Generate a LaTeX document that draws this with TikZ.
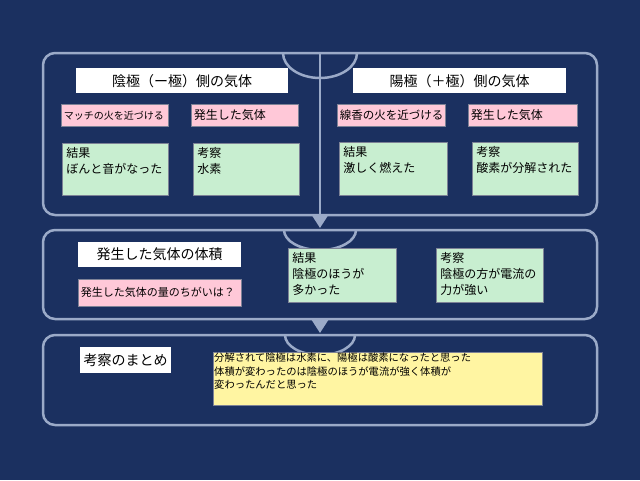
\documentclass[tikz,border=0pt]{standalone}
\usepackage{fontspec}
\setmainfont{Noto Sans CJK JP}
\usepackage{tikz}
\usetikzlibrary{arrows.meta}

\definecolor{navy}{RGB}{27,48,96}
\definecolor{frame}{RGB}{155,170,200}
\definecolor{pinkbox}{RGB}{255,200,216}
\definecolor{greenbox}{RGB}{200,238,208}
\definecolor{yellowbox}{RGB}{255,245,162}
\definecolor{edge}{RGB}{125,130,150}

\begin{document}
\begin{tikzpicture}[x=1pt, y=-1pt,
  panel/.style={draw=frame, line width=2.5pt, rounded corners=12pt, anchor=north west, inner sep=0pt, outer sep=0pt, minimum width=554pt},
  hood/.style={draw=frame, line width=2.5pt},
  link/.style={draw=frame, line width=2.5pt, -{Triangle[width=16pt, length=13pt]}},
  titlebox/.style={fill=white, anchor=north west, inner sep=0pt, minimum height=25pt, font=\fontsize{14}{16}\selectfont},
  askbox/.style={fill=pinkbox, draw=edge, line width=0.6pt, anchor=north west, inner xsep=2.5pt, inner ysep=0pt, minimum height=22pt, align=left},
  notebox/.style={fill=greenbox, draw=edge, line width=0.6pt, anchor=north west, inner sep=4pt, font=\fontsize{12}{16}\selectfont}]
\fill[navy] (0,0) rectangle (640,480);
% three panels
\node[panel, minimum height=162pt] (cells) at (43,53) {};
\node[panel, minimum height=89pt] (volume) at (43,230) {};
\node[panel, minimum height=90pt] (summary) at (43,335) {};
\draw[hood] ([xshift=-37pt]cells.north) arc[start angle=180, end angle=360, x radius=37pt, y radius=25pt];
\draw[hood] ([xshift=-36pt]volume.north) arc[start angle=180, end angle=360, x radius=36pt, y radius=20pt];
\draw[hood] ([xshift=-35pt]summary.north) arc[start angle=180, end angle=360, x radius=35pt, y radius=20pt];
\draw[link] (cells.north) -- ([yshift=2pt]volume.north);
\draw[link] (volume.south) -- ([yshift=2pt]summary.north);
% cathode side
\node[titlebox, minimum width=212pt] (cathode) at (76,68) {陰極（ー極）側の気体};
\node[askbox, text width=102pt, font=\fontsize{10}{12}\selectfont] (match) at (61,104) {マッチの火を近づける};
\node[askbox, text width=102pt, font=\fontsize{12}{14}\selectfont] (gasA) at (191,104) {発生した気体};
\node[notebox] (resA) at (62,143) {\parbox[t][44pt][t]{98pt}{結果\\ぼんと音がなった}};
\node[notebox] (viewA) at (193,143) {\parbox[t][44pt][t]{98pt}{考察\\水素}};
% anode side
\node[titlebox, minimum width=213pt] (anode) at (353,68) {陽極（＋極）側の気体};
\node[askbox, text width=103pt, font=\fontsize{11.5}{13}\selectfont] (incense) at (337,104) {線香の火を近づける};
\node[askbox, text width=104pt, font=\fontsize{12}{14}\selectfont] (gasB) at (468,104) {発生した気体};
\node[notebox] (resB) at (339,142) {\parbox[t][45pt][t]{100pt}{結果\\激しく燃えた}};
\node[notebox] (viewB) at (472,142) {\parbox[t][45pt][t]{98pt}{考察\\酸素が分解された}};
% volume
\node[titlebox, minimum width=163pt] (vol) at (78,242) {発生した気体の体積};
\node[askbox, text width=158pt, minimum height=27pt, font=\fontsize{11}{13}\selectfont] (amount) at (78,279) {発生した気体の量のちがいは？};
\node[notebox] (resC) at (288,248) {\parbox[t][46pt][t]{100pt}{結果\\陰極のほうが\\多かった}};
\node[notebox] (viewC) at (436,248) {\parbox[t][46pt][t]{99pt}{考察\\陰極の方が電流の\\力が強い}};
% summary
\node[titlebox, minimum width=91pt, minimum height=26pt] (sum) at (80,347) {考察のまとめ};
\node[fill=yellowbox, draw=edge, line width=0.4pt, anchor=north west, inner sep=1pt, font=\fontsize{10.3}{13.5}\selectfont] (thought) at (213,352)
  {\parbox[t][51pt][t]{327pt}{分解されて陰極は水素に、陽極は酸素になったと思った\\体積が変わったのは陰極のほうが電流が強く体積が\\変わったんだと思った}};
\end{tikzpicture}
\end{document}
